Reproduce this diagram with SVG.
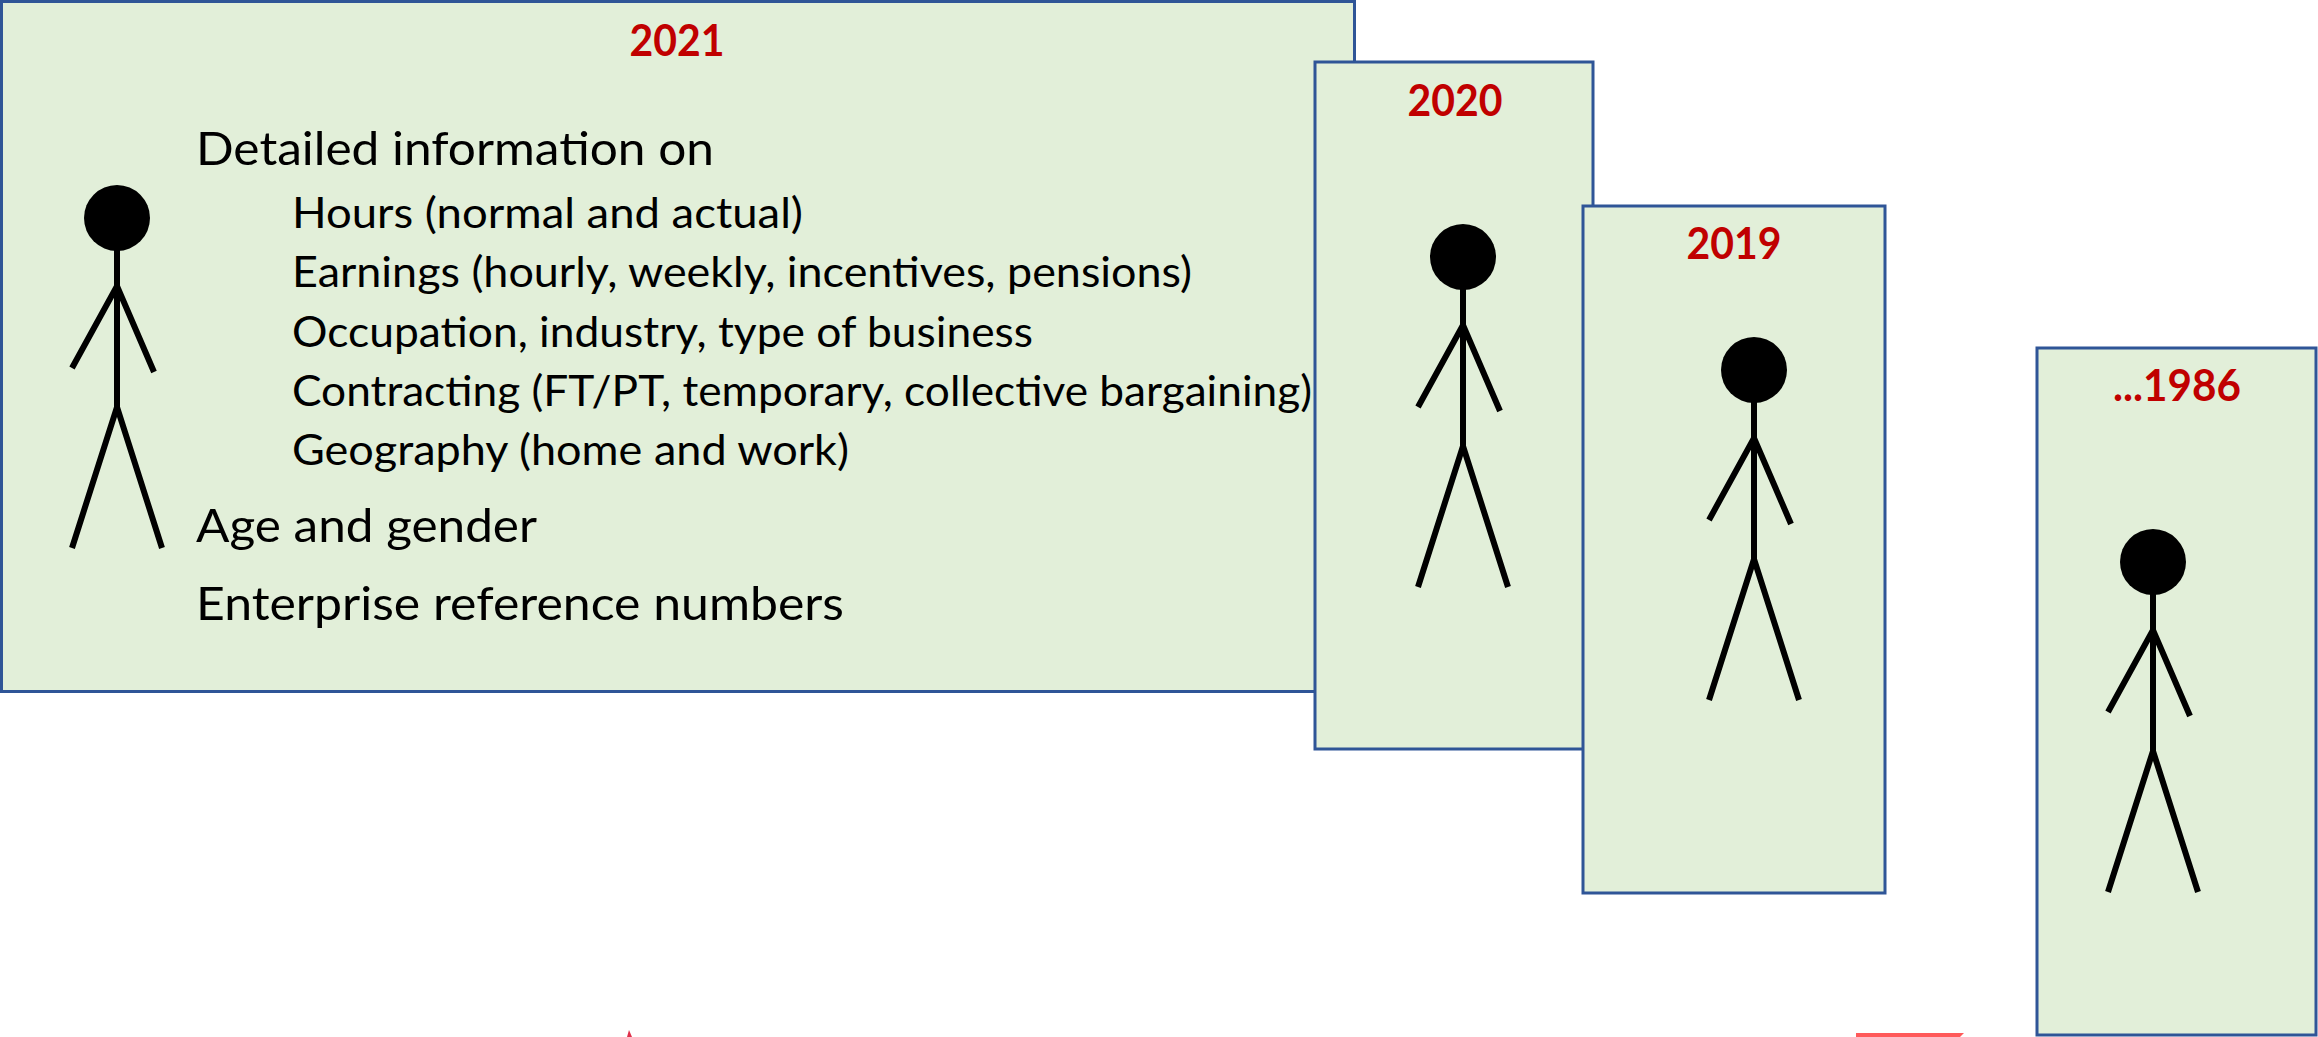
<svg xmlns="http://www.w3.org/2000/svg" width="2318" height="1037" viewBox="0 0 2318 1037">
<style>
.box{fill:#e2efd9;stroke:#2f5597;stroke-width:3}
.yr{font:bold 43px Lato,"Liberation Sans",sans-serif;fill:#c00000;text-anchor:middle}
.m{font:47px Lato,"Liberation Sans",sans-serif;fill:#000}
.s{font:42px Lato,"Liberation Sans",sans-serif;fill:#000}
.l{fill:none;stroke:#000;stroke-width:6}
</style>
<defs>
<g id="person">
<circle cx="117" cy="218" r="33" fill="#000"/>
<path class="l" d="M117 247V407M72 368L117 286L154 372M72 548L117 407L162 548"/>
</g>
</defs>
<g id="box-2021">
<rect class="box" x="1.5" y="1.5" width="1353" height="690"/>
<text class="yr" x="677" y="56" textLength="95" lengthAdjust="spacingAndGlyphs">2021</text>
<use href="#person"/>
<text class="m" x="196" y="165" textLength="518" lengthAdjust="spacingAndGlyphs">Detailed information on</text>
<text class="s" x="292" y="228" textLength="511" lengthAdjust="spacingAndGlyphs">Hours (normal and actual)</text>
<text class="s" x="292" y="287" textLength="900" lengthAdjust="spacingAndGlyphs">Earnings (hourly, weekly, incentives, pensions)</text>
<text class="s" x="292" y="347" textLength="741" lengthAdjust="spacingAndGlyphs">Occupation, industry, type of business</text>
<text class="s" x="292" y="406" textLength="1020" lengthAdjust="spacingAndGlyphs">Contracting (FT/PT, temporary, collective bargaining)</text>
<text class="s" x="292" y="465" textLength="557" lengthAdjust="spacingAndGlyphs">Geography (home and work)</text>
<text class="m" x="196" y="542" textLength="341" lengthAdjust="spacingAndGlyphs">Age and gender</text>
<text class="m" x="196" y="620" textLength="648" lengthAdjust="spacingAndGlyphs">Enterprise reference numbers</text>
</g>
<g id="box-2020">
<rect class="box" x="1315" y="62" width="278" height="687"/>
<text class="yr" x="1455" y="116" textLength="95" lengthAdjust="spacingAndGlyphs">2020</text>
<use href="#person" x="1346" y="39"/>
</g>
<g id="box-2019">
<rect class="box" x="1583" y="206" width="302" height="687"/>
<text class="yr" x="1734" y="259" textLength="95" lengthAdjust="spacingAndGlyphs">2019</text>
<use href="#person" x="1637" y="152"/>
</g>
<g id="box-1986">
<rect class="box" x="2037" y="348" width="279" height="687"/>
<text class="yr" x="2177" y="401" textLength="128" lengthAdjust="spacingAndGlyphs">...1986</text>
<use href="#person" x="2036" y="344"/>
</g>
<g id="fragments">
<rect x="1856" y="1033" width="104" height="4" fill="#ff5a5a"/>
<path d="M1960 1033h4l-4 4z" fill="#ff5a5a"/>
<path d="M627 1037l2-7 3 7z" fill="#e0304a"/>
</g>
<g id="connectors"/>
</svg>
